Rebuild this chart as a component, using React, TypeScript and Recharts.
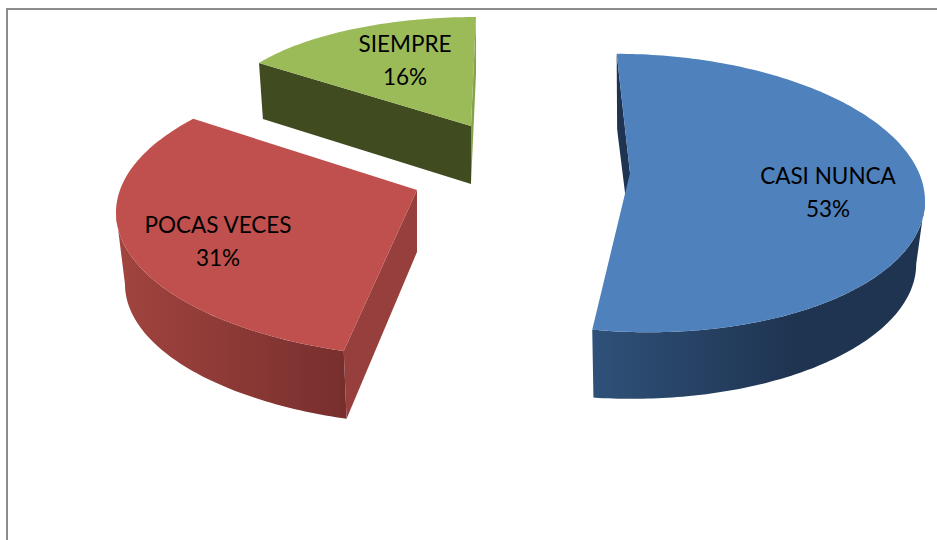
import React from "react";
import { PieChart, Pie } from "recharts";

const categories = ["CASI NUNCA", "POCAS VECES", "SIEMPRE"];
const shares = [53, 31, 16];
const percentLabels = ["53%", "31%", "16%"];

const topColors = ["#4f81bd", "#c0504d", "#9bbb59"];
const startWallColors = ["#1f3450", "#963f3c", "#404c20"];
const endWallColors = [null, null, "#86a34c"];
const sideGradients = [
  ["#2f5179", "#1f3451"],
  ["#a2443f", "#772f2d"],
  ["#404c20", "#404c20"],
];

// perspective of each exploded slice, relative to the pie centre
const ellipseDx = [114, -70, -42];
const ellipseDy = [25, 44.5, -52];
const radiusX = [293, 332, 257];
const radiusY = [139, 146, 99];
const apexDx = [112, -101, -47];
const apexDy = [5, 22, -42];
const twists = [0, 10.5, 3];
const skews = [8, 0, 0];
const depths = [71, 71.5, 55];
const bottomScales = [0.97, 0.973, 0.982];
const apexDepths = [60, 62, 58];
const labelDx = [310, -300, -113];
const labelDy = [16, 65, -116];

const W = 937;
const H = 540;
const CX = 518;
const CY = 168;

const tableData = categories.map((name, i) => ({ name, value: shares[i], i }));

const rad = (d: number) => (d * Math.PI) / 180;

function Slice3D(props: any) {
  const i: number = props.payload?.i ?? props.i ?? props.index;
  const ex = props.cx + ellipseDx[i];
  const ey = props.cy + ellipseDy[i];
  const rx = radiusX[i];
  const ry = radiusY[i];
  const ax = props.cx + apexDx[i];
  const ay = props.cy + apexDy[i];
  const d = depths[i];
  const bs = bottomScales[i];
  const t1 = 90 - props.startAngle + twists[i];
  const t2 = 90 - props.endAngle + twists[i];

  const top = (t: number): [number, number] => [
    ex + rx * Math.sin(rad(t)),
    ey - ry * Math.cos(rad(t)) + skews[i] * Math.sin(rad(t)),
  ];
  const bot = (t: number): [number, number] => [ex + rx * bs * Math.sin(rad(t)), ey + d - ry * bs * Math.cos(rad(t))];
  const sample = (a: number, b: number, f: (t: number) => [number, number]) => {
    const n = Math.max(2, Math.ceil(Math.abs(b - a)));
    const out: [number, number][] = [];
    for (let k = 0; k <= n; k++) out.push(f(a + ((b - a) * k) / n));
    return out;
  };
  const toPath = (pts: [number, number][]) =>
    "M" + pts.map((p) => `${p[0].toFixed(2)} ${p[1].toFixed(2)}`).join("L") + "Z";

  const apexBottom: [number, number] = [ax, ay + apexDepths[i]];
  const s1 = Math.max(t1, 90);
  const s2 = Math.min(t2, 270);
  const gid = `side-${i}`;

  return (
    <g>
      <defs>
        <linearGradient id={gid} x1="0" y1="0" x2="1" y2="0">
          <stop offset="0" stopColor={sideGradients[i][0]} />
          <stop offset={i === 0 ? "0.6" : "1"} stopColor={sideGradients[i][1]} />
        </linearGradient>
      </defs>
      {endWallColors[i] && (
        <path d={toPath([top(t2), bot(t2), apexBottom, [ax, ay]])} fill={endWallColors[i] as string} />
      )}
      <path d={toPath([top(t1), bot(t1), apexBottom, [ax, ay]])} fill={startWallColors[i]} />
      {s2 > s1 && (
        <path d={toPath([...sample(s1, s2, top), ...sample(s2, s1, bot)])} fill={`url(#${gid})`} />
      )}
      <path d={toPath([[ax, ay], ...sample(t1, t2, top)])} fill={topColors[i]} />
    </g>
  );
}

function SliceLabel(props: any) {
  const i: number = props.payload?.i ?? props.index;
  const x = props.cx + labelDx[i];
  const y = props.cy + labelDy[i];
  return (
    <text x={x} y={y} textAnchor="middle" fontFamily="Lato" fontSize={22.5} fill="#000">
      <tspan x={x} y={y}>{categories[i]}</tspan>
      <tspan x={x} y={y + 33}>{percentLabels[i]}</tspan>
    </text>
  );
}

export default function App() {
  return (
    <div style={{ position: "absolute", left: 0, top: 0, width: W, height: H, overflow: "hidden", background: "#fff" }}>
      <div
        style={{
          position: "absolute",
          left: 6,
          top: 8,
          width: W,
          height: H,
          borderLeft: "2px solid #8c8c8c",
          borderTop: "2px solid #8c8c8c",
        }}
      />
      <PieChart width={W} height={H} margin={{ top: 0, right: 0, bottom: 0, left: 0 }} style={{ position: "absolute", left: 0, top: 0 }}>
        <Pie
          data={tableData}
          dataKey="value"
          nameKey="name"
          cx={CX}
          cy={CY}
          outerRadius={200}
          startAngle={93}
          endAngle={-267}
          paddingAngle={0}
          stroke="none"
          isAnimationActive={false}
          shape={Slice3D}
          label={SliceLabel}
          labelLine={false}
        />
      </PieChart>
    </div>
  );
}
